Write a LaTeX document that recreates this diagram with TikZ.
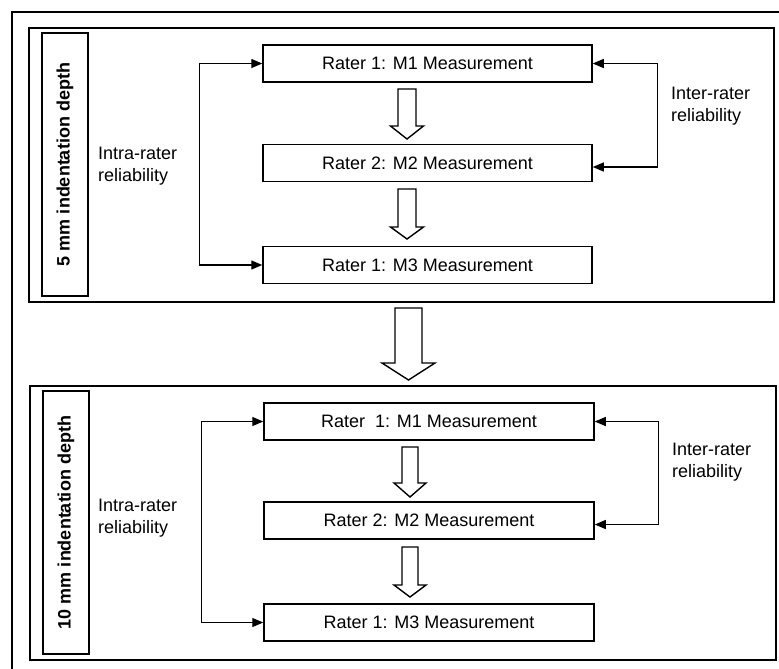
\documentclass[tikz,border=0pt]{standalone}
\usepackage{fontspec}
\setmainfont{Liberation Sans}
\usetikzlibrary{arrows.meta}
\tikzset{
  panel/.style={draw, line width=1.5pt, minimum width=#1, inner sep=0},
  depthbox/.style={draw, line width=1.6pt, minimum width=46pt, minimum height=263pt, inner sep=0},
  depthtext/.style={rotate=90, font=\fontsize{18}{22}\selectfont\bfseries},
  measbox/.style={draw, line width=1.5pt, minimum width=330pt, minimum height=37pt, inner sep=0},
  reltext/.style={align=left, inner sep=0, anchor=west},
  relarrow/.style={line width=1.3pt, {Triangle[length=11pt,width=9pt]}-{Triangle[length=11pt,width=9pt]}},
  blockarr/.style={draw, line width=1.4pt, fill=white, line join=miter}
}
\newcommand\blkarrow[6]{% xc, top, headstart, tip, half shaft, half head
  \draw[blockarr] (#1-#5,#2) -- (#1+#5,#2) -- (#1+#5,#3) -- (#1+#6,#3) -- (#1,#4)
    -- (#1-#6,#3) -- (#1-#5,#3) -- cycle;}
\begin{document}
\begin{tikzpicture}[x=1pt,y=-1pt, font=\fontsize{18}{22}\selectfont]
\useasboundingbox (0,0) rectangle (779,669);
\fill[white] (0,0) rectangle (779,669);
\begin{scope}
\clip (0,0) rectangle (779,669);
\draw[line width=2.4pt] (12,700) -- (12,12) -- (800,12);
\end{scope}

% panel 1
\node[panel=745pt, minimum height=274pt] (panelA) at (401.5,165) {};
\node[depthbox] (depthA) at (65,164.5) {};
\node[depthtext] (depthAt) at (depthA) {5 mm indentation depth};
\node[measbox, minimum width=329pt] (a1) at (427.5,63.5) {Rater 1: M1 Measurement};
\node[measbox, minimum width=329pt] (a2) at (427.5,163) {Rater 2: M2 Measurement};
\node[measbox, minimum width=329pt] (a3) at (427.5,265) {Rater 1: M3 Measurement};
\node[reltext] (intraA) at (98,166) {Intra-rater\\reliability};
\node[reltext] (interA) at (671,106) {Inter-rater\\reliability};
\draw[relarrow] (a1.west) -- ++(-63,0) |- (a3.west);
\draw[relarrow] (a1.east) -- ++(65,0) |- ([yshift=-4pt]a2.east);
\blkarrow{407}{89}{126}{139}{9}{16.5}
\blkarrow{407}{189}{227}{239}{9}{16.5}

% big arrow
\blkarrow{408.5}{308}{363}{380}{13.5}{26.5}

% panel 2
\node[panel=746pt, minimum height=274pt] (panelB) at (403,523) {};
\node[depthbox] (depthB) at (66,522.5) {};
\node[depthtext] (depthBt) at (depthB) {10 mm indentation depth};
\node[measbox] (b1) at (429,421.5) {Rater\ \ 1: M1 Measurement};
\node[measbox] (b2) at (429,520.5) {Rater 2: M2 Measurement};
\node[measbox] (b3) at (429,622.5) {Rater 1: M3 Measurement};
\node[reltext] (intraB) at (98,518) {Intra-rater\\reliability};
\node[reltext] (interB) at (672,462.5) {Inter-rater\\reliability};
\draw[relarrow] (b1.west) -- ++(-62,0) |- (b3.west);
\draw[relarrow] (b1.east) -- ++(64,0) |- ([yshift=-4pt]b2.east);
\blkarrow{410}{447}{483}{497}{8}{16}
\blkarrow{410}{547}{585}{597}{8}{16}
\end{tikzpicture}
\end{document}
